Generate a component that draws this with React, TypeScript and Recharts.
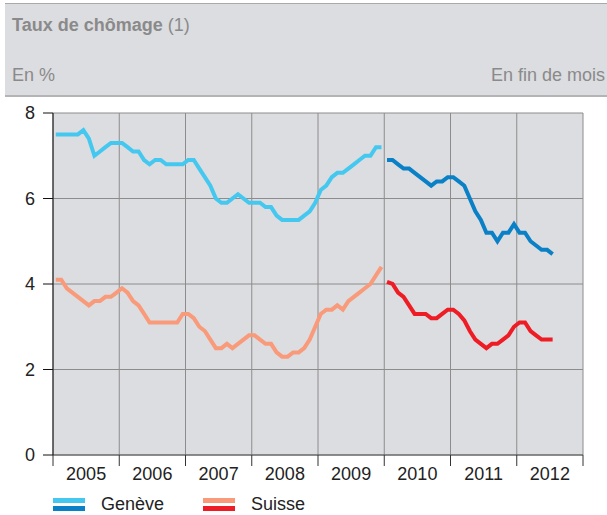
import React from 'react';
import { LineChart, Line, XAxis, YAxis, CartesianGrid } from 'recharts';

// Taux de chômage, fin de mois, Jan 2005 - Jul 2012
const years = ['2005', '2006', '2007', '2008', '2009', '2010', '2011', '2012'];

const geneveOld = [
  7.5, 7.5, 7.5, 7.5, 7.5, 7.6, 7.4, 7.0, 7.1, 7.2, 7.3, 7.3,
  7.3, 7.2, 7.1, 7.1, 6.9, 6.8, 6.9, 6.9, 6.8, 6.8, 6.8, 6.8,
  6.9, 6.9, 6.7, 6.5, 6.3, 6.0, 5.9, 5.9, 6.0, 6.1, 6.0, 5.9,
  5.9, 5.9, 5.8, 5.8, 5.6, 5.5, 5.5, 5.5, 5.5, 5.6, 5.7, 5.9,
  6.2, 6.3, 6.5, 6.6, 6.6, 6.7, 6.8, 6.9, 7.0, 7.0, 7.2, 7.2,
];
const geneveNew = [
  6.9, 6.9, 6.8, 6.7, 6.7, 6.6, 6.5, 6.4, 6.3, 6.4, 6.4, 6.5,
  6.5, 6.4, 6.3, 6.0, 5.7, 5.5, 5.2, 5.2, 5.0, 5.2, 5.2, 5.4,
  5.2, 5.2, 5.0, 4.9, 4.8, 4.8, 4.7,
];
const suisseOld = [
  4.1, 4.1, 3.9, 3.8, 3.7, 3.6, 3.5, 3.6, 3.6, 3.7, 3.7, 3.8,
  3.9, 3.8, 3.6, 3.5, 3.3, 3.1, 3.1, 3.1, 3.1, 3.1, 3.1, 3.3,
  3.3, 3.2, 3.0, 2.9, 2.7, 2.5, 2.5, 2.6, 2.5, 2.6, 2.7, 2.8,
  2.8, 2.7, 2.6, 2.6, 2.4, 2.3, 2.3, 2.4, 2.4, 2.5, 2.7, 3.0,
  3.3, 3.4, 3.4, 3.5, 3.4, 3.6, 3.7, 3.8, 3.9, 4.0, 4.2, 4.4,
];
const suisseNew = [
  4.05, 4.0, 3.8, 3.7, 3.5, 3.3, 3.3, 3.3, 3.2, 3.2, 3.3, 3.4,
  3.4, 3.3, 3.15, 2.9, 2.7, 2.6, 2.5, 2.6, 2.6, 2.7, 2.8, 3.0,
  3.1, 3.1, 2.9, 2.8, 2.7, 2.7, 2.7,
];

const yTicks = [0, 2, 4, 6, 8];
const xTicks = years.map((_, i) => i * 12).concat([96]);

const data = Array.from({ length: geneveOld.length + geneveNew.length }, (_, i) => {
  const old = i < geneveOld.length;
  const j = i - geneveOld.length;
  return {
    m: i + 0.5,
    gOld: old ? geneveOld[i] : null,
    gNew: old ? null : geneveNew[j],
    sOld: old ? suisseOld[i] : null,
    sNew: old ? null : suisseNew[j],
  };
});

const W = 607;
const H = 515;
const LEFT = 53;
const RIGHT = 24;
const HALF_YEAR = (W - LEFT - RIGHT) / years.length / 2;
const FONT = '"Liberation Sans", Arial, sans-serif';

const YearTick = (props: any) => {
  const { x, y, payload } = props;
  const idx = payload.value / 12;
  if (idx >= years.length) return null;
  return (
    <text x={x + HALF_YEAR} y={y + 6} textAnchor="middle" dominantBaseline="central"
      fontSize={18} fill="#222" fontFamily={FONT}>
      {years[idx]}
    </text>
  );
};

const LegendItem = ({ top, bottom, label, x }: any) => (
  <div style={{ position: 'absolute', left: x, top: 494, display: 'flex', alignItems: 'center' }}>
    <div style={{ width: 32, marginRight: 16 }}>
      <div style={{ height: 5, background: top, marginBottom: 3 }} />
      <div style={{ height: 5, background: bottom }} />
    </div>
    <span style={{ fontSize: 18, color: '#222', lineHeight: '20px' }}>{label}</span>
  </div>
);

export default function App() {
  return (
    <div style={{ position: 'absolute', left: 0, top: 0, width: W, height: H, background: '#fff', fontFamily: FONT }}>
      <div style={{
        position: 'absolute', left: 5, top: 3, width: W - 5, height: 91,
        background: '#dcdde0', borderTop: '1px solid #a9a9a9', borderBottom: '2px solid #b4b4b4',
        color: '#8a8a8a', fontSize: 18, lineHeight: '20px',
      }}>
        <div style={{ position: 'absolute', left: 7, top: 11 }}>
          <b>Taux de chômage</b> (1)
        </div>
        <div style={{ position: 'absolute', left: 7, top: 61 }}>En %</div>
        <div style={{ position: 'absolute', right: 2, top: 61 }}>En fin de mois</div>
      </div>

      <LineChart width={W} height={H} data={data}
        margin={{ top: 113, right: RIGHT, bottom: 30, left: 0 }}
        style={{ position: 'absolute', left: 0, top: 0 }}>
        <CartesianGrid fill="#dcdde0" stroke="#8c8c8c" strokeWidth={1} />
        <XAxis dataKey="m" type="number" domain={[0, 96]} ticks={xTicks} height={30}
          axisLine={{ stroke: '#555' }} tickLine={{ stroke: '#333' }} tickSize={11}
          tick={<YearTick />} interval={0} />
        <YAxis domain={[0, 8]} ticks={yTicks} width={LEFT} tickSize={10} tickMargin={8}
          axisLine={{ stroke: '#111' }} tickLine={{ stroke: '#111' }}
          tick={{ fontSize: 18, fill: '#222', fontFamily: FONT }} />
        <Line dataKey="gOld" stroke="#45c8f0" strokeWidth={4} dot={false} isAnimationActive={false} strokeLinejoin="miter" />
        <Line dataKey="gNew" stroke="#0a80c6" strokeWidth={4} dot={false} isAnimationActive={false} strokeLinejoin="miter" />
        <Line dataKey="sOld" stroke="#f99a7a" strokeWidth={4} dot={false} isAnimationActive={false} strokeLinejoin="miter" />
        <Line dataKey="sNew" stroke="#ee1c25" strokeWidth={4} dot={false} isAnimationActive={false} strokeLinejoin="miter" />
      </LineChart>

      <LegendItem x={53} top="#45c8f0" bottom="#0a80c6" label="Genève" />
      <LegendItem x={203} top="#f99a7a" bottom="#ee1c25" label="Suisse" />
    </div>
  );
}
